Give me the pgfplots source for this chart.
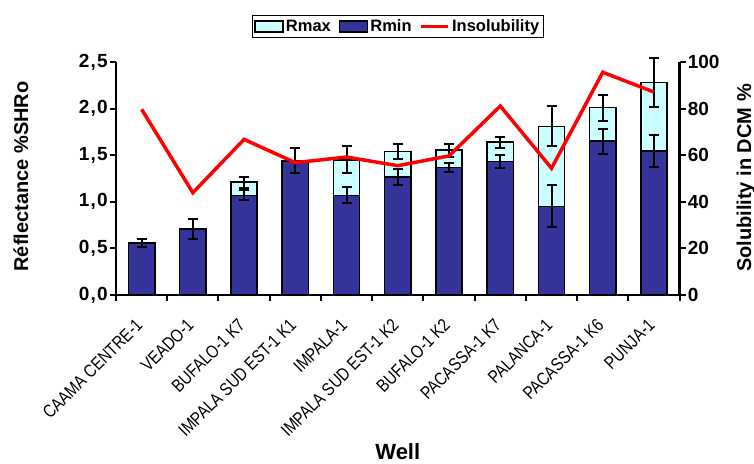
\documentclass[border=0pt]{standalone}
\usepackage{pgfplots}
\pgfplotsset{compat=1.18}
\usepackage{fontspec}
\setmainfont{Liberation Sans}
\newfontfamily\narrowfont[FakeStretch=0.83]{Liberation Sans}
\definecolor{rmin}{HTML}{333399}
\definecolor{rmax}{HTML}{CCFFFF}
\newcommand{\tickfont}{\fontsize{19bp}{22bp}\selectfont\bfseries}
\newcommand{\cm}{\kern1.2bp,\kern1.2bp}
\begin{document}
\begin{tikzpicture}
\useasboundingbox (0,0) rectangle (754bp,464bp);
\begin{axis}[
  at={(116bp,169bp)}, anchor=south west,
  scale only axis, width=563.6bp, height=233bp,
  xmin=-0.5, xmax=10.5, ymin=0, ymax=2.5,
  axis x line*=bottom, axis y line*=left,
  axis line style={line width=2.5bp, black},
  xtick={-0.5,0.5,...,10.5},
  x tick label as interval,
  xticklabels={CAAMA CENTRE-1, VEADO-1, BUFALO-1 K7, IMPALA SUD EST-1 K1, IMPALA-1, IMPALA SUD EST-1 K2, BUFALO-1 K2, PACASSA-1 K7, PALANCA-1, PACASSA-1 K6, PUNJA-1},
  xticklabel style={xshift=-7bp, yshift=-15bp, rotate=45, anchor=north east, font=\narrowfont\fontsize{18bp}{21bp}\selectfont, inner sep=1bp},
  ytick={0,0.5,1,1.5,2,2.5},
  yticklabels={{0\cm0},{0\cm5},{1\cm0},{1\cm5},{2\cm0},{2\cm5}},
  yticklabel style={font=\tickfont, inner sep=2bp},
  tick align=outside, major tick length=6bp,
  every tick/.style={black, line width=2bp},
  clip=false,
  ylabel={Réflectance \%SHRo},
  ylabel style={at={(axis description cs:-0.1686,0.5086)}, anchor=center, font=\fontsize{20bp}{24bp}\selectfont\bfseries},
  xlabel={Well},
  xlabel style={at={(axis description cs:0.5,-0.674)}, anchor=center, font=\fontsize{22bp}{26bp}\selectfont\bfseries},
  legend columns=3,
  legend style={at={(axis description cs:0.5,1.1524)}, anchor=center, draw=black, line width=1bp,
    font=\fontsize{16.5bp}{19bp}\selectfont\bfseries, inner sep=2bp,
    /tikz/every even column/.append style={column sep=6bp}},
]
\addplot[ybar, bar width=26.3bp, bar shift=0pt, fill=rmax, draw=black, line width=1.5bp,
  legend image code/.code={\draw[fill=rmax,draw=black,line width=1.5bp] (0bp,-5.5bp) rectangle (28bp,5.5bp);},
  error bars/.cd, y dir=both, y explicit,
  error bar style={line width=2bp, black},
  error mark options={rotate=90, mark size=5bp, line width=2bp, black}]
coordinates {
(2,1.21) +- (0,0.06)
(4,1.45) +- (0,0.145)
(5,1.54) +- (0,0.085)
(6,1.555) +- (0,0.07)
(7,1.64) +- (0,0.06)
(8,1.81) +- (0,0.215)
(9,2.01) +- (0,0.14)
(10,2.28) +- (0,0.26)
};
\addlegendentry{Rmax}
\addplot[ybar, bar width=26.3bp, bar shift=0pt, fill=rmin, draw=black, line width=1.5bp,
  legend image code/.code={\draw[fill=rmin,draw=black,line width=1.5bp] (0bp,-5.5bp) rectangle (28bp,5.5bp);},
  error bars/.cd, y dir=both, y explicit,
  error bar style={line width=2bp, black},
  error mark options={rotate=90, mark size=5bp, line width=2bp, black}]
coordinates {
(0,0.56) +- (0,0.045)
(1,0.71) +- (0,0.11)
(2,1.07) +- (0,0.055)
(3,1.44) +- (0,0.135)
(4,1.07) +- (0,0.085)
(5,1.265) +- (0,0.09)
(6,1.37) +- (0,0.045)
(7,1.43) +- (0,0.07)
(8,0.95) +- (0,0.225)
(9,1.65) +- (0,0.135)
(10,1.545) +- (0,0.17)
};
\addlegendentry{Rmin}
\addlegendimage{red, line width=3.5bp, legend image code/.code={\draw[red,line width=3.5bp] (0bp,0bp) -- (27bp,0bp);}}
\addlegendentry{Insolubility}
\end{axis}
\begin{axis}[
  at={(116bp,169bp)}, anchor=south west,
  scale only axis, width=563.6bp, height=233bp,
  xmin=-0.5, xmax=10.5, ymin=0, ymax=100,
  axis y line*=right, axis x line=none,
  axis line style={line width=2.5bp, black},
  ytick={0,20,40,60,80,100},
  yticklabels={0,20,40,60,80,100},
  yticklabel style={font=\tickfont, inner sep=2bp},
  tick align=outside, major tick length=6bp,
  every tick/.style={black, line width=2bp},
  clip=false,
  ylabel={Solubility in DCM \%},
  ylabel style={at={(axis description cs:1.1178,0.502)}, anchor=center, font=\fontsize{20bp}{24bp}\selectfont\bfseries},
]
\addplot[red, line width=3.5bp, mark=none] coordinates {
(0,79.7) (1,43.9) (2,66.8) (3,56.8) (4,59.2) (5,55.5) (6,59.7) (7,81.1) (8,54.4) (9,95.6) (10,87.1)
};
\end{axis}
\end{tikzpicture}
\end{document}
